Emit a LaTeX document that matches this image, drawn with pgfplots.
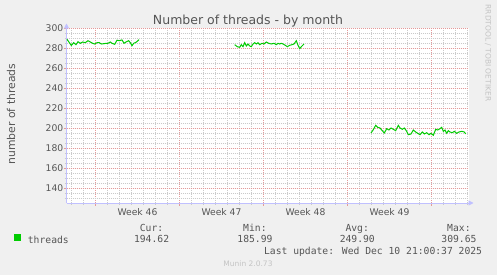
\documentclass[border=0pt]{standalone}
\usepackage{pgfplots}
\pgfplotsset{compat=1.18}
\usepackage{fontspec}
\setmainfont{DejaVu Sans}
\newfontfamily\monofont{DejaVu Sans Mono}
\usetikzlibrary{arrows.meta}
\definecolor{bg}{HTML}{F0F0F0}
\definecolor{txt}{HTML}{555555}
\definecolor{faint}{HTML}{C4C4C4}
\definecolor{mgrid}{HTML}{E49A9A}
\definecolor{ngrid}{HTML}{CACACA}
\definecolor{axblue}{HTML}{C0C0FF}
\definecolor{lgreen}{HTML}{00CC00}

\pgfplotstableread{
x y
67 289.2
68.7 286.8
71.3 283.0
73.7 285.8
76 283.8
78 286.8
80.3 285.2
82.7 286.5
85.3 285.8
88 287.8
90.3 286.5
92.7 285.2
94.7 284.5
97 285.8
99.3 285.8
101.3 284.5
103.7 284.8
106 285.2
108 285.2
110.3 286.5
112 285.2
114.7 284.2
117 288.3
119.3 287.8
122 288.6
124 285.2
126 286.5
128.7 287.8
130.3 285.8
132 282.8
133.7 285.2
136 286.2
138 287.8
139 288.8
}\segA

\pgfplotstableread{
x y
234.7 283.8
237.3 281.8
239.7 281.2
241.3 283.8
243 281.8
244.7 285.8
246.3 282.5
248 284.5
249.7 282.5
251.3 281.8
253 284.5
254.7 285.8
256.3 284.5
258 285.8
259.7 283.8
262 285.2
264 284.5
266.3 286.5
268.7 285.2
271.3 284.5
274 285.2
276.3 283.8
278 285.2
279.7 284.5
281.3 285.2
283 284.5
285.3 283.2
287.3 281.8
289.7 283.2
292 283.8
294 284.5
296.3 287.8
298 283.2
299.7 279.8
301.3 281.8
304 284.5
}\segB

\pgfplotstableread{
x y
371 195.5
373.3 198.8
375.7 203.2
377.7 201.2
380 200.5
382.3 197.8
384.3 195.5
386.7 199.8
389 198.5
391 200.5
393.3 199.2
395.7 197.8
398.3 203.2
400 200.5
402.3 199.2
404.3 200.5
406.7 197.2
408.3 193.8
411 194.5
413.3 198.5
415.7 196.5
417.7 195.2
420 193.8
422.3 196.5
424.3 194.5
426.7 195.8
429 193.8
431 195.2
433.3 193.2
435.7 199.2
437.7 198.5
440 199.8
441.7 201.2
443.3 197.2
445 198.5
446.7 195.2
448.3 197.8
450 196.5
452.3 195.8
454.3 197.2
456.7 195.2
459 196.5
461.7 197.2
464.3 196.5
465.7 194.6
}\segC

\begin{document}
\begin{tikzpicture}[x=1pt,y=1pt]
\fill[bg] (0,0) rectangle (497,275);
\useasboundingbox (0,0) rectangle (497,275);
\begin{axis}[
  at={(66.5pt,72pt)}, anchor=south west,
  scale only axis, width=402pt, height=174.5pt,
  xmin=66.5, xmax=468.5, ymin=125.5, ymax=300,
  axis background/.style={fill=white},
  axis lines=left,
  axis line style={axblue, line width=0.9pt, shorten >=-5pt, -{Triangle[width=5pt,length=5pt]}},
  xtick={95.5,179.5,263.5,347.5,431.5}, xticklabels={},
  minor xtick={71.5,83.5,...,467.5},
  extra x ticks={137.5,221.5,305.5,389.5},
  extra x tick labels={Week 46,Week 47,Week 48,Week 49},
  extra x tick style={grid=none, major tick length=0pt,
     tick label style={anchor=base, yshift=-12.7pt}},
  ytick={140,160,...,300},
  minor ytick={130,135,...,295},
  grid=both,
  major grid style={mgrid, line width=1pt, dash pattern=on 1pt off 1pt},
  minor grid style={ngrid, line width=1pt, dash pattern=on 1pt off 1pt},
  tick align=outside,
  major tick length=3pt, minor tick length=2pt,
  major tick style={mgrid, line width=0.9pt},
  minor tick style={ngrid, line width=0.9pt},
  /pgf/number format/assume math mode=true,
  ticklabel style={font=\fontsize{9.2}{10}\selectfont, text=txt},
  yticklabel style={anchor=base east, inner sep=0pt, yshift=-3.3pt},
  legend style={at={(-0.1306,-0.2092)}, anchor=west, draw=none, fill=none,
     inner sep=0pt, font=\monofont\fontsize{9.7}{10}\selectfont, text=txt,
     nodes={inner sep=0pt}, /tikz/every odd column/.append style={column sep=6.7pt}},
  legend image code/.code={\fill[lgreen] (0pt,0pt) rectangle (6pt,6pt);},
  legend cell align=left,
]
\addplot[lgreen, line width=1pt] table {\segA};
\addlegendentry{threads}
\addplot[lgreen, line width=1pt, forget plot] table {\segB};
\addplot[lgreen, line width=1pt, forget plot] table {\segC};
\end{axis}
\node[anchor=base, text=txt, font=\fontsize{12.5}{13}\selectfont] at (248,250.5) {Number of threads - by month};
\node[rotate=90, text=txt, font=\fontsize{10.8}{11}\selectfont] at (11,161) {number of threads};
\node[rotate=-90, text=faint, font=\fontsize{7.5}{8}\selectfont] at (488,222) {RRDTOOL / TOBI OETIKER};
\begin{scope}[every node/.style={text=txt, font=\monofont\fontsize{9.7}{10}\selectfont, inner sep=0pt}]
\node[anchor=base east] at (163.4,43.8) {Cur:};
\node[anchor=base east] at (169.3,32.2) {194.62};
\node[anchor=base east] at (266.8,43.8) {Min:};
\node[anchor=base east] at (272.7,32.2) {185.99};
\node[anchor=base east] at (369.1,43.8) {Avg:};
\node[anchor=base east] at (375,32.2) {249.90};
\node[anchor=base east] at (470.8,43.8) {Max:};
\node[anchor=base east] at (476.7,32.2) {309.65};
\node[anchor=base east] at (482.3,20.3) {Last update: Wed Dec 10 21:00:37 2025};
\end{scope}
\node[anchor=base, inner sep=0pt, text=faint, font=\fontsize{7.5}{8}\selectfont] at (248,8.3) {Munin 2.0.73};
\end{tikzpicture}
\end{document}
